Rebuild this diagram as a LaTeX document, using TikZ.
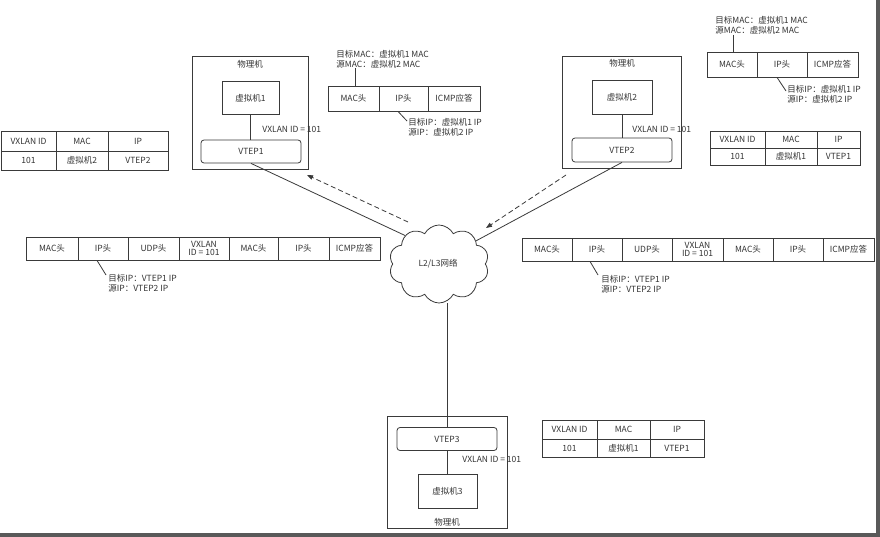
\documentclass[tikz,border=0pt]{standalone}
\usepackage{fontspec}
\setmainfont{Noto Sans CJK SC}
\usetikzlibrary{shapes.symbols,arrows.meta}
\definecolor{ln}{HTML}{3A3A3A}
\definecolor{tx}{HTML}{333333}
\begin{document}
\begin{tikzpicture}[x=1pt,y=-1pt,line width=0.8pt,
  every node/.style={font=\fontsize{8.5}{10}\selectfont,text=tx},
  box/.style={draw=ln,rectangle,inner sep=0pt},
  rbox/.style={draw=ln,rectangle,rounded corners=3pt,inner sep=0pt},
  cell/.style={draw=ln,rectangle,inner sep=0pt,align=center},
  txt/.style={inner sep=0pt,anchor=west,align=left},
  conn/.style={draw=ln,line width=0.8pt},
  darr/.style={draw=ln,line width=0.8pt,dash pattern=on 5pt off 3pt,-{Triangle[length=6pt,width=4.5pt]}}]
\useasboundingbox (0,0) rectangle (880,537);
\fill[white] (0,0) rectangle (880,537);
% frame shadow
\fill[black!65] (876,0) rectangle (880,537);
\fill[black!65] (0,533) rectangle (880,537);

% ---------- host 1 ----------
\node[box,minimum width=116pt,minimum height=113pt] (host1) at (250,112.5) {};
\node (h1lbl) at (250,64) {物理机};
\node[box,minimum width=57pt,minimum height=33pt] (vm1) at (250.5,98) {虚拟机1};
\node[rbox,minimum width=100pt,minimum height=23pt] (vtep1) at (251,151.5) {VTEP1};
\draw[conn] (vm1.south -| 250,0) -- (vtep1.north -| 250,0);
\node[txt] (vx1) at (262,129) {VXLAN ID = 101};

% ---------- host 2 ----------
\node[box,minimum width=119pt,minimum height=112pt] (host2) at (621.5,112) {};
\node (h2lbl) at (622,63) {物理机};
\node[box,minimum width=60pt,minimum height=34pt] (vm2) at (622,97) {虚拟机2};
\node[rbox,minimum width=100pt,minimum height=24pt] (vtep2) at (622,150) {VTEP2};
\draw[conn] (vm2.south) -- (vtep2.north);
\node[txt] (vx2) at (632,129) {VXLAN ID = 101};

% ---------- host 3 ----------
\node[box,minimum width=120pt,minimum height=112pt] (host3) at (447,472) {};
\node (h3lbl) at (447,522) {物理机};
\node[rbox,minimum width=100pt,minimum height=23pt] (vtep3) at (447,439) {VTEP3};
\node[box,minimum width=59pt,minimum height=34pt] (vm3) at (447.5,491) {虚拟机3};
\draw[conn] (vtep3.south) -- (vm3.north -| vtep3.south);
\node[txt] (vx3) at (462,459) {VXLAN ID = 101};

% ---------- cloud ----------
\node[cloud,draw=ln,cloud puffs=10,cloud puff arc=125,aspect=1.3,
      minimum width=100pt,minimum height=78pt,inner sep=0pt] (cloud) at (439,264) {};
\node (cltxt) at (438,264) {L2/L3网络};

\draw[conn] (vtep1.south) -- (cloud.140);
\draw[conn] (vtep2.south) -- (cloud.32);
\draw[conn] (vtep3.north) -- (vtep3.north |- cloud.south);

\coordinate (dl1) at (408,222);
\coordinate (dl2) at (307,175);
\coordinate (dr1) at (566,175);
\coordinate (dr2) at (486,228);
\draw[darr] (dl1) -- (dl2);
\draw[darr] (dr1) -- (dr2);

% ---------- top-middle packet ----------
\node[cell,minimum width=51pt,minimum height=25pt] (pa1) at (353.5,98.5) {MAC头};
\node[cell,minimum width=49pt,minimum height=25pt] (pa2) at (403.5,98.5) {IP头};
\node[cell,minimum width=52pt,minimum height=25pt] (pa3) at (454,98.5) {ICMP应答};
\node[txt] (ma) at (336,59.5) {目标MAC：虚拟机1 MAC\\源MAC：虚拟机2 MAC};
\node[txt] (ia) at (408,127.5) {目标IP：虚拟机1 IP\\源IP：虚拟机2 IP};
\coordinate (ma1) at (355,68);
\draw[conn] (ma1) -- (ma1 |- pa1.north);
\coordinate (ia1) at (398,111);
\coordinate (ia2) at (407,121);
\draw[conn] (ia1 |- pa2.south) -- (ia2);

% ---------- top-right packet ----------
\node[cell,minimum width=50pt,minimum height=25pt] (pb1) at (732,64.5) {MAC头};
\node[cell,minimum width=50pt,minimum height=25pt] (pb2) at (782,64.5) {IP头};
\node[cell,minimum width=51pt,minimum height=25pt] (pb3) at (832.5,64.5) {ICMP应答};
\node[txt] (mb) at (715,25) {目标MAC：虚拟机1 MAC\\源MAC：虚拟机2 MAC};
\node[txt] (ib) at (787,94) {目标IP：虚拟机1 IP\\源IP：虚拟机2 IP};
\coordinate (mb1) at (733,35);
\draw[conn] (mb1) -- (mb1 |- pb1.north);
\coordinate (ib1) at (777,77);
\coordinate (ib2) at (786,91);
\draw[conn] (ib1 |- pb2.south) -- (ib2);

% ---------- left long packet ----------
\node[cell,minimum width=52pt,minimum height=23pt] (pc1) at (52,248.5) {MAC头};
\node[cell,minimum width=50pt,minimum height=23pt] (pc2) at (103,248.5) {IP头};
\node[cell,minimum width=51pt,minimum height=23pt] (pc3) at (153.5,248.5) {UDP头};
\node[cell,minimum width=50pt,minimum height=23pt] (pc4) at (204,248.5) {VXLAN\\[-2pt]ID = 101};
\node[cell,minimum width=49pt,minimum height=23pt] (pc5) at (253.5,248.5) {MAC头};
\node[cell,minimum width=51pt,minimum height=23pt] (pc6) at (303.5,248.5) {IP头};
\node[cell,minimum width=51pt,minimum height=23pt] (pc7) at (354.5,248.5) {ICMP应答};
\node[txt] (ec) at (108,283.5) {目标IP：VTEP1 IP\\源IP：VTEP2 IP};
\coordinate (ec1) at (97,260);
\coordinate (ec2) at (106,275);
\draw[conn] (ec1 |- pc2.south) -- (ec2);

% ---------- right long packet ----------
\node[cell,minimum width=50pt,minimum height=23pt] (pd1) at (547,249.5) {MAC头};
\node[cell,minimum width=50pt,minimum height=23pt] (pd2) at (597,249.5) {IP头};
\node[cell,minimum width=50pt,minimum height=23pt] (pd3) at (647,249.5) {UDP头};
\node[cell,minimum width=51pt,minimum height=23pt] (pd4) at (697.5,249.5) {VXLAN\\[-2pt]ID = 101};
\node[cell,minimum width=50pt,minimum height=23pt] (pd5) at (748,249.5) {MAC头};
\node[cell,minimum width=50pt,minimum height=23pt] (pd6) at (798,249.5) {IP头};
\node[cell,minimum width=51pt,minimum height=23pt] (pd7) at (848.5,249.5) {ICMP应答};
\node[txt] (ed) at (601,284) {目标IP：VTEP1 IP\\源IP：VTEP2 IP};
\coordinate (ed1) at (590,261);
\coordinate (ed2) at (598,275);
\draw[conn] (ed1 |- pd2.south) -- (ed2);

% ---------- left table ----------
\node[cell,minimum width=55pt,minimum height=20pt] (ta1) at (28.5,141) {VXLAN ID};
\node[cell,minimum width=52pt,minimum height=20pt] (ta2) at (82,141) {MAC};
\node[cell,minimum width=60pt,minimum height=20pt] (ta3) at (138,141) {IP};
\node[cell,minimum width=55pt,minimum height=19pt] (ta4) at (28.5,160.5) {101};
\node[cell,minimum width=52pt,minimum height=19pt] (ta5) at (82,160.5) {虚拟机2};
\node[cell,minimum width=60pt,minimum height=19pt] (ta6) at (138,160.5) {VTEP2};

% ---------- top-right table ----------
\node[cell,minimum width=55pt,minimum height=17pt] (tb1) at (737.5,139.5) {VXLAN ID};
\node[cell,minimum width=52pt,minimum height=17pt] (tb2) at (791,139.5) {MAC};
\node[cell,minimum width=43pt,minimum height=17pt] (tb3) at (838.5,139.5) {IP};
\node[cell,minimum width=55pt,minimum height=17pt] (tb4) at (737.5,156.5) {101};
\node[cell,minimum width=52pt,minimum height=17pt] (tb5) at (791,156.5) {虚拟机1};
\node[cell,minimum width=43pt,minimum height=17pt] (tb6) at (838.5,156.5) {VTEP1};

% ---------- bottom table ----------
\node[cell,minimum width=55pt,minimum height=19pt] (tc1) at (569.5,429.5) {VXLAN ID};
\node[cell,minimum width=53pt,minimum height=19pt] (tc2) at (623.5,429.5) {MAC};
\node[cell,minimum width=54pt,minimum height=19pt] (tc3) at (677,429.5) {IP};
\node[cell,minimum width=55pt,minimum height=18pt] (tc4) at (569.5,448) {101};
\node[cell,minimum width=53pt,minimum height=18pt] (tc5) at (623.5,448) {虚拟机1};
\node[cell,minimum width=54pt,minimum height=18pt] (tc6) at (677,448) {VTEP1};
\end{tikzpicture}
\end{document}
